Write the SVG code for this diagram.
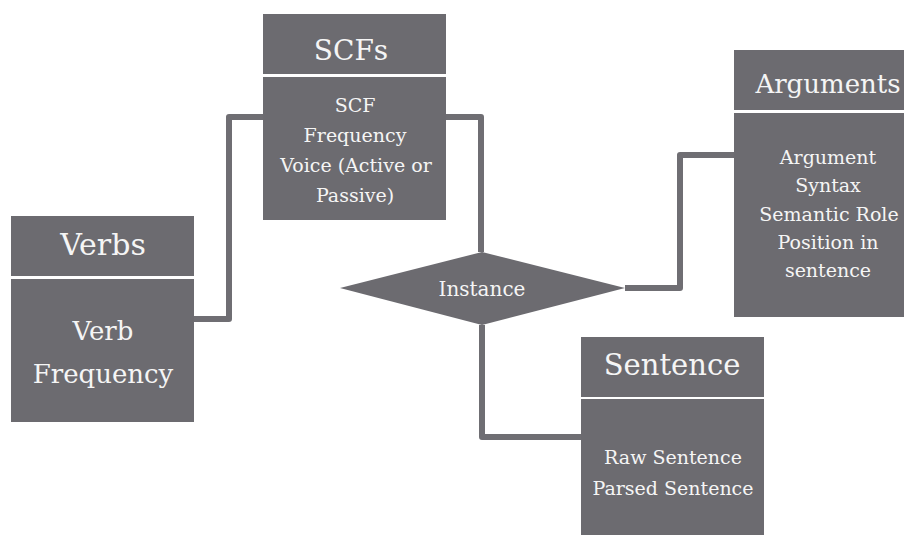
<svg xmlns="http://www.w3.org/2000/svg" width="904" height="535" viewBox="0 0 904 535">
<style>
.box{fill:#6c6b70}
.conn{fill:none;stroke:#6f6e73;stroke-width:6;stroke-linejoin:round}
.lbl{fill:#f5f5f5;text-anchor:middle;font-family:"DejaVu Serif","Noto Serif","Liberation Serif",serif}
</style>
<rect width="904" height="535" fill="#ffffff"/>
<g id="connectors">
<path class="conn" d="M194,319 H229 V117 H263"/>
<path class="conn" d="M446,117 H481 V252"/>
<path class="conn" d="M625,288 H680 V155 H734"/>
<path class="conn" d="M482,325 V437 H581"/>
</g>
<g id="verbs">
<rect class="box" x="11" y="216" width="183" height="60"/>
<rect class="box" x="11" y="279" width="183" height="143"/>
<text class="lbl" x="103" y="255" font-size="30">Verbs</text>
<text class="lbl" x="103" y="340" font-size="26">Verb</text>
<text class="lbl" x="103" y="383" font-size="26">Frequency</text>
</g>
<g id="scfs">
<rect class="box" x="263" y="14" width="183" height="60"/>
<rect class="box" x="263" y="77" width="183" height="143"/>
<text class="lbl" x="351" y="60" font-size="28">SCFs</text>
<text class="lbl" x="355" y="112" font-size="19">SCF</text>
<text class="lbl" x="355" y="142" font-size="19">Frequency</text>
<text class="lbl" x="356" y="172" font-size="19">Voice (Active or</text>
<text class="lbl" x="355" y="202" font-size="19">Passive)</text>
</g>
<g id="instance">
<polygon class="box" points="340,288 482,252 625,288 482,325"/>
<text class="lbl" x="482" y="296" font-size="20">Instance</text>
</g>
<g id="arguments">
<rect class="box" x="734" y="50" width="190" height="60"/>
<rect class="box" x="734" y="113" width="190" height="204"/>
<text class="lbl" x="828" y="93" font-size="26">Arguments</text>
<text class="lbl" x="828" y="164" font-size="19">Argument</text>
<text class="lbl" x="828" y="192" font-size="19">Syntax</text>
<text class="lbl" x="829" y="221" font-size="19">Semantic Role</text>
<text class="lbl" x="828" y="249" font-size="19">Position in</text>
<text class="lbl" x="828" y="277" font-size="19">sentence</text>
</g>
<g id="sentence">
<rect class="box" x="581" y="337" width="183" height="60"/>
<rect class="box" x="581" y="399" width="183" height="136"/>
<text class="lbl" x="672" y="375" font-size="29">Sentence</text>
<text class="lbl" x="673" y="464" font-size="19">Raw Sentence</text>
<text class="lbl" x="673" y="495" font-size="19">Parsed Sentence</text>
</g>
</svg>
